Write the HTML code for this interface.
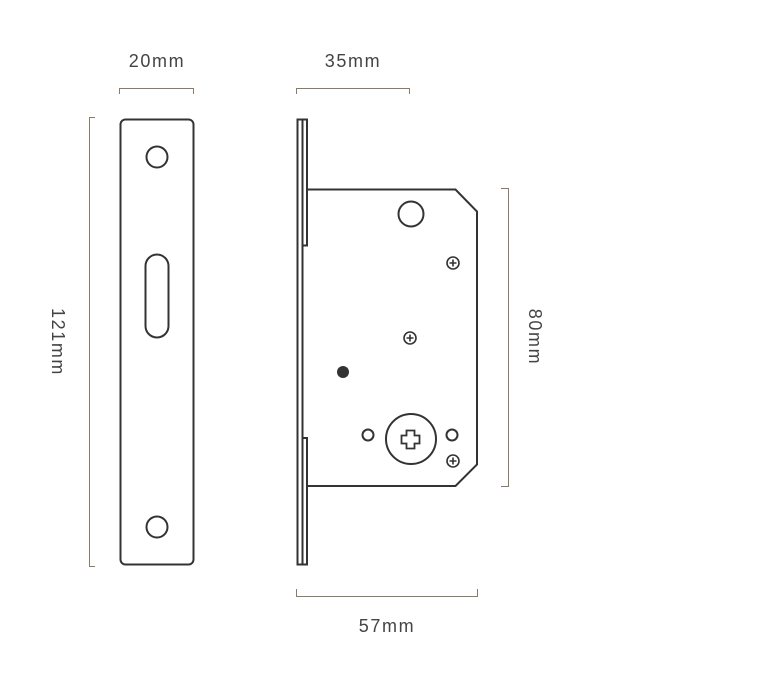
<!DOCTYPE html>
<html><head><style>
html,body{margin:0;padding:0;background:#fff;}
svg{display:block;}
text{font-family:"Liberation Sans",sans-serif;font-size:18px;letter-spacing:1.6px;fill:#444;}
</style></head><body>
<svg width="784" height="698" viewBox="0 0 784 698">
<g fill="none" stroke="#8a7a66" stroke-width="1">
<path d="M119.5 94V88.5H193.5V94"/>
<path d="M296.5 94V88.5H409.5V94"/>
<path d="M95 117.5H89.5V566.5H95"/>
<path d="M501 188.5H508.5V486.5H501"/>
<path d="M296.5 589V596.5H477.5V589"/>
</g>
<text x="157" y="67" text-anchor="middle">20mm</text>
<text x="353" y="67" text-anchor="middle">35mm</text>
<text x="387" y="632" text-anchor="middle">57mm</text>
<text transform="translate(52,342) rotate(90)" text-anchor="middle">121mm</text>
<text transform="translate(529,337) rotate(90)" text-anchor="middle">80mm</text>
<g fill="none" stroke="#333" stroke-width="2">
<rect x="120.5" y="119.5" width="73" height="445" rx="5"/>
<circle cx="157" cy="157" r="10.5"/>
<circle cx="157" cy="527" r="10.5"/>
<rect x="145.5" y="254.5" width="23" height="83" rx="11.5"/>
<rect x="297.5" y="119.5" width="5" height="445"/>
<path d="M302.5 119.5H307V245.5H302.5"/>
<path d="M302.5 564.5H307V438H302.5"/>
<path d="M307 189.5H455.5L477 211.5V464.5L455.5 486H307"/>
<circle cx="411" cy="214" r="12.5"/>
<circle cx="411" cy="439" r="25"/>
<circle cx="368" cy="435" r="5.5"/>
<circle cx="452" cy="435" r="5.5"/>
</g>
<path d="M406.5 430.5h8v5h5v8h-5v5h-8v-5h-5v-8h5z" fill="none" stroke="#333" stroke-width="1.8"/>
<g fill="none" stroke="#333" stroke-width="1.6">
<circle cx="453" cy="263" r="6"/><path d="M449.5 263h7M453 259.5v7"/>
<circle cx="410" cy="338" r="6"/><path d="M406.5 338h7M410 334.5v7"/>
<circle cx="453" cy="461" r="6"/><path d="M449.5 461h7M453 457.5v7"/>
</g>
<circle cx="343" cy="372" r="6" fill="#333"/>
</svg>
</body></html>
